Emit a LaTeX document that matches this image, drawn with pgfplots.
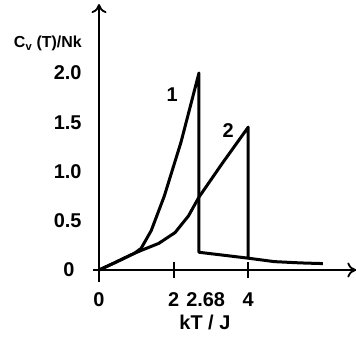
\documentclass[border=0pt]{standalone}
\usepackage{pgfplots}
\pgfplotsset{compat=1.18}
\usepackage{fontspec}
\setmainfont{Liberation Sans}
\usetikzlibrary{arrows.meta}
\begin{document}
\begin{tikzpicture}
\path[use as bounding box] (0,0) rectangle (356bp,-339bp);
\begin{axis}[
  at={(99bp,-270bp)}, anchor=origin,
  x=37.3bp, y=98.5bp,
  xmin=-0.15, xmax=6.9, ymin=-0.12, ymax=2.7,
  axis lines=middle,
  axis line style={line width=2.2bp},
  x axis line style={-{To[length=9bp,width=15bp,line width=1.8bp]}},
  y axis line style={-{To[length=9bp,width=15bp,line width=1.8bp]}},
  clip=false,
  /pgf/number format/assume math mode=true,
  tick style={line width=2bp, black},
  xtick={2,4}, xticklabels={},
  major tick length=16bp,
  ytick={0.5,1,1.5,2},
  yticklabels={0.5,1.0,1.5,2.0},
  ytick style={draw=none},
  yticklabel style={font=\fontsize{20}{22}\selectfont\bfseries, anchor=east, xshift=-6bp},
  extra y ticks={0}, extra y tick labels={0},
  extra y tick style={tick style={draw=black, line width=2bp}, major tick length=13bp, tick align=outside,
     yticklabel style={xshift=-2bp}},
]
\addplot[line width=3bp, black, line join=round] coordinates {
 (0,0) (0.4,0.07) (0.95,0.17) (1.13,0.22) (1.4,0.4) (1.75,0.75) (2.2,1.3) (2.68,2.0)
 (2.68,0.18) (4,0.12) (4.7,0.085) (5.4,0.072) (6.0,0.065)
};
\addplot[line width=3bp, black, line join=round] coordinates {
 (0,0) (0.4,0.07) (0.95,0.17) (1.14,0.2) (1.6,0.27) (2.04,0.38) (2.4,0.55) (2.68,0.74) (3.3,1.08) (4,1.45) (4,0.12)
};
\node[font=\fontsize{20}{22}\selectfont\bfseries] at (axis cs:0,-0.3) {0};
\node[font=\fontsize{20}{22}\selectfont\bfseries] at (axis cs:2,-0.3) {2};
\node[font=\fontsize{20}{22}\selectfont\bfseries] at (axis cs:2.86,-0.3) {2.68};
\node[font=\fontsize{20}{22}\selectfont\bfseries] at (axis cs:4,-0.3) {4};
\node[font=\fontsize{20}{22}\selectfont\bfseries] at (axis cs:2.84,-0.53) {kT / J};
\node[font=\fontsize{16}{18}\selectfont\bfseries] at (axis cs:-1.37,2.30) {C$_{\mathbf{v}}$ (T)/Nk};
\node[font=\fontsize{20}{22}\selectfont\bfseries] at (axis cs:1.96,1.78) {1};
\node[font=\fontsize{20}{22}\selectfont\bfseries] at (axis cs:3.46,1.42) {2};
\end{axis}
\end{tikzpicture}
\end{document}
